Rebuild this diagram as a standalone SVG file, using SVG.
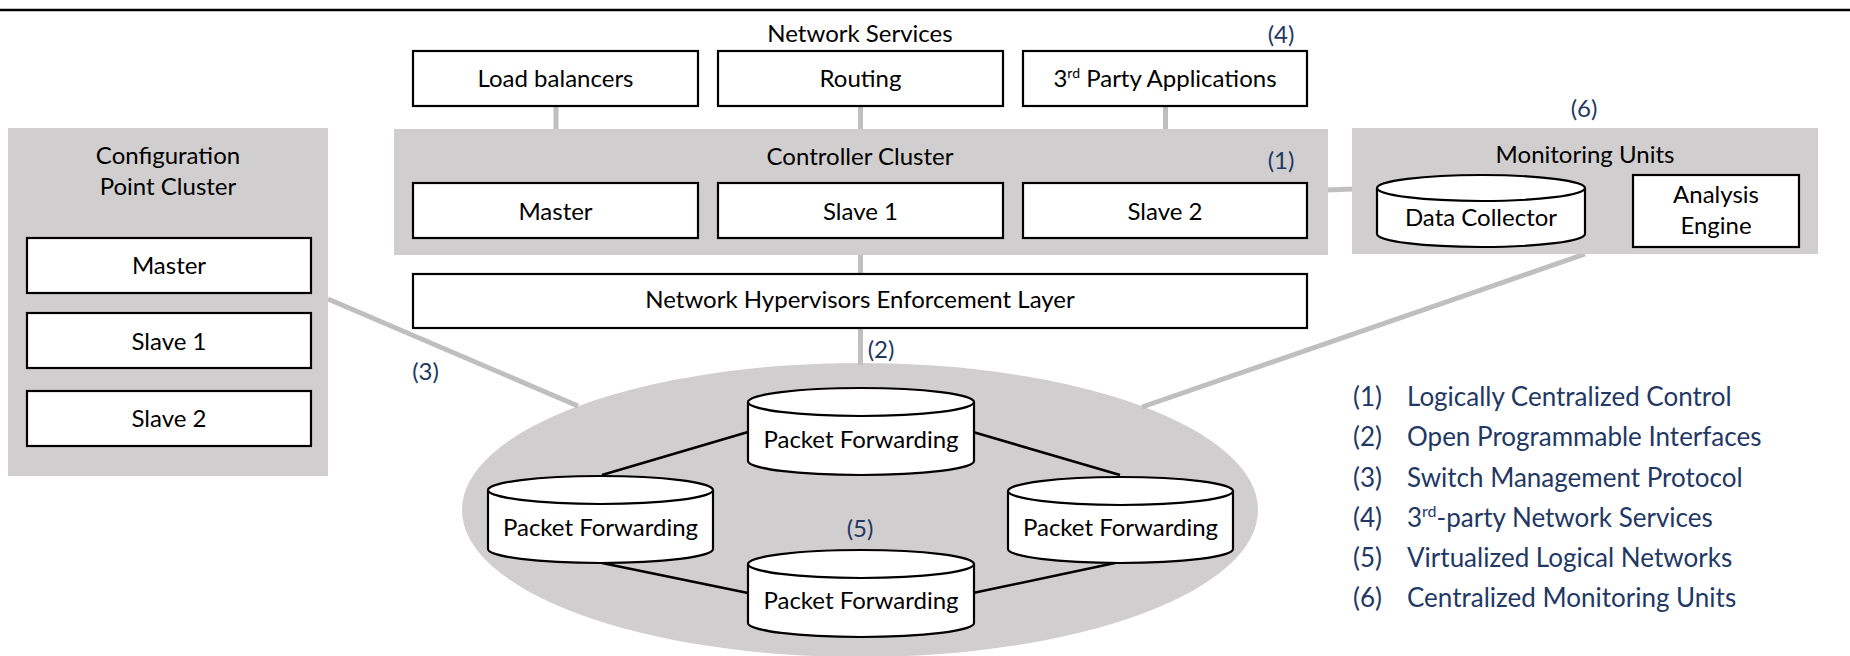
<svg xmlns="http://www.w3.org/2000/svg" width="1850" height="656" viewBox="0 0 1850 656">
<style>
  .t { font-family: Lato, "Liberation Sans", sans-serif; font-size: 24px; fill: #000; text-anchor: middle; }
  .n { font-family: Lato, "Liberation Sans", sans-serif; font-size: 24px; fill: #1F3864; text-anchor: middle; }
  .lg { font-family: Lato, "Liberation Sans", sans-serif; font-size: 26px; fill: #1F3864; }
  .box { fill: #fff; stroke: #000; stroke-width: 2.2; }
  .grp { fill: #D0CECE; }
  .gc { stroke: #BFBFBF; stroke-width: 5; fill: none; }
  .bc { stroke: #000; stroke-width: 2.5; fill: none; }
  .cyl { fill: #fff; stroke: #000; stroke-width: 2.2; }
</style>
<line x1="0" y1="10" x2="1850" y2="10" stroke="#000" stroke-width="2.5"/>

<g id="ellipse-net"><ellipse cx="860" cy="510" rx="398" ry="147" class="grp"/></g>

<g id="connectors">
  <line class="gc" x1="556" y1="106" x2="556" y2="130"/>
  <line class="gc" x1="860.5" y1="106" x2="860.5" y2="130"/>
  <line class="gc" x1="1165.5" y1="106" x2="1165.5" y2="130"/>
  <line class="gc" x1="860.5" y1="254" x2="860.5" y2="275"/>
  <line class="gc" x1="860.5" y1="327" x2="860.5" y2="365"/>
  <line class="gc" x1="1327" y1="190" x2="1353" y2="189"/>
  <line class="gc" x1="328" y1="299" x2="578" y2="406"/>
  <line class="gc" x1="1585" y1="254" x2="1142" y2="407"/>
  <line class="bc" x1="748" y1="432" x2="602" y2="475"/>
  <line class="bc" x1="973" y1="432" x2="1120" y2="475"/>
  <line class="bc" x1="602" y1="563" x2="748" y2="593"/>
  <line class="bc" x1="1115" y1="563" x2="973" y2="593"/>
</g>

<g id="network-services">
  <text class="t" x="860" y="42">Network Services</text>
  <text class="n" x="1281" y="43">(4)</text>
</g>
<g id="load-balancers"><rect class="box" x="413" y="51" width="285" height="55"/><text class="t" x="555.5" y="87">Load balancers</text></g>
<g id="routing"><rect class="box" x="718" y="51" width="285" height="55"/><text class="t" x="860.5" y="87">Routing</text></g>
<g id="third-party"><rect class="box" x="1023" y="51" width="284" height="55"/><text class="t" x="1165" y="87">3<tspan font-size="14" dy="-9">rd</tspan><tspan dy="9"> Party Applications</tspan></text></g>

<g id="controller-cluster">
  <rect class="grp" x="394" y="129" width="934" height="126"/>
  <text class="t" x="860" y="165">Controller Cluster</text>
  <text class="n" x="1281" y="169">(1)</text>
</g>
<g id="ctrl-master"><rect class="box" x="413" y="183" width="285" height="55"/><text class="t" x="555.5" y="220">Master</text></g>
<g id="ctrl-slave1"><rect class="box" x="718" y="183" width="285" height="55"/><text class="t" x="860.5" y="220">Slave 1</text></g>
<g id="ctrl-slave2"><rect class="box" x="1023" y="183" width="284" height="55"/><text class="t" x="1165" y="220">Slave 2</text></g>

<g id="nhel"><rect class="box" x="413" y="274" width="894" height="54"/><text class="t" x="860" y="308">Network Hypervisors Enforcement Layer</text></g>
<g id="label-2"><text class="n" x="881" y="358">(2)</text></g>

<g id="config-cluster">
  <rect class="grp" x="8" y="128" width="320" height="348"/>
  <text class="t" x="168" y="164">Configuration</text>
  <text class="t" x="168" y="195">Point Cluster</text>
</g>
<g id="cfg-master"><rect class="box" x="27" y="238" width="284" height="55"/><text class="t" x="169" y="274">Master</text></g>
<g id="cfg-slave1"><rect class="box" x="27" y="313" width="284" height="55"/><text class="t" x="169" y="350">Slave 1</text></g>
<g id="cfg-slave2"><rect class="box" x="27" y="391" width="284" height="55"/><text class="t" x="169" y="427">Slave 2</text></g>
<g id="label-3"><text class="n" x="425.5" y="380">(3)</text></g>

<g id="monitoring-units">
  <rect class="grp" x="1352" y="128" width="466" height="126"/>
  <text class="t" x="1585" y="163">Monitoring Units</text>
  <text class="n" x="1584" y="117">(6)</text>
</g>
<g id="data-collector">
  <path class="cyl" d="M1377,188 A104,13 0 0 1 1585,188 V234 A104,13 0 0 1 1377,234 Z"/>
  <path class="cyl" d="M1377,188 A104,13 0 0 0 1585,188"/>
  <text class="t" x="1481" y="226">Data Collector</text>
</g>
<g id="analysis-engine">
  <rect class="box" x="1633" y="175" width="166" height="72"/>
  <text class="t" x="1716" y="203">Analysis</text>
  <text class="t" x="1716" y="234">Engine</text>
</g>

<g id="pf-top">
  <path class="cyl" d="M748,402 A113,14 0 0 1 974,402 V461 A113,14 0 0 1 748,461 Z"/>
  <path class="cyl" d="M748,402 A113,14 0 0 0 974,402"/>
  <text class="t" x="861" y="448">Packet Forwarding</text>
</g>
<g id="pf-left">
  <path class="cyl" d="M488,490 A112.5,14 0 0 1 713,490 V549 A112.5,14 0 0 1 488,549 Z"/>
  <path class="cyl" d="M488,490 A112.5,14 0 0 0 713,490"/>
  <text class="t" x="600.5" y="536">Packet Forwarding</text>
</g>
<g id="pf-right">
  <path class="cyl" d="M1008,491 A112.5,14 0 0 1 1233,491 V549 A112.5,14 0 0 1 1008,549 Z"/>
  <path class="cyl" d="M1008,491 A112.5,14 0 0 0 1233,491"/>
  <text class="t" x="1120.5" y="536">Packet Forwarding</text>
</g>
<g id="pf-bottom">
  <path class="cyl" d="M748,564 A113,14 0 0 1 974,564 V623 A113,14 0 0 1 748,623 Z"/>
  <path class="cyl" d="M748,564 A113,14 0 0 0 974,564"/>
  <text class="t" x="861" y="609">Packet Forwarding</text>
</g>
<g id="label-5"><text class="n" x="860" y="537">(5)</text></g>

<g id="legend">
  <text class="lg" x="1353" y="406">(1)</text><text class="lg" x="1407" y="406">Logically Centralized Control</text>
  <text class="lg" x="1353" y="446">(2)</text><text class="lg" x="1407" y="446">Open Programmable Interfaces</text>
  <text class="lg" x="1353" y="487">(3)</text><text class="lg" x="1407" y="487">Switch Management Protocol</text>
  <text class="lg" x="1353" y="527">(4)</text><text class="lg" x="1407" y="527">3<tspan font-size="16" dy="-10">rd</tspan><tspan dy="10">-party Network Services</tspan></text>
  <text class="lg" x="1353" y="567">(5)</text><text class="lg" x="1407" y="567">Virtualized Logical Networks</text>
  <text class="lg" x="1353" y="607">(6)</text><text class="lg" x="1407" y="607">Centralized Monitoring Units</text>
</g>
</svg>
